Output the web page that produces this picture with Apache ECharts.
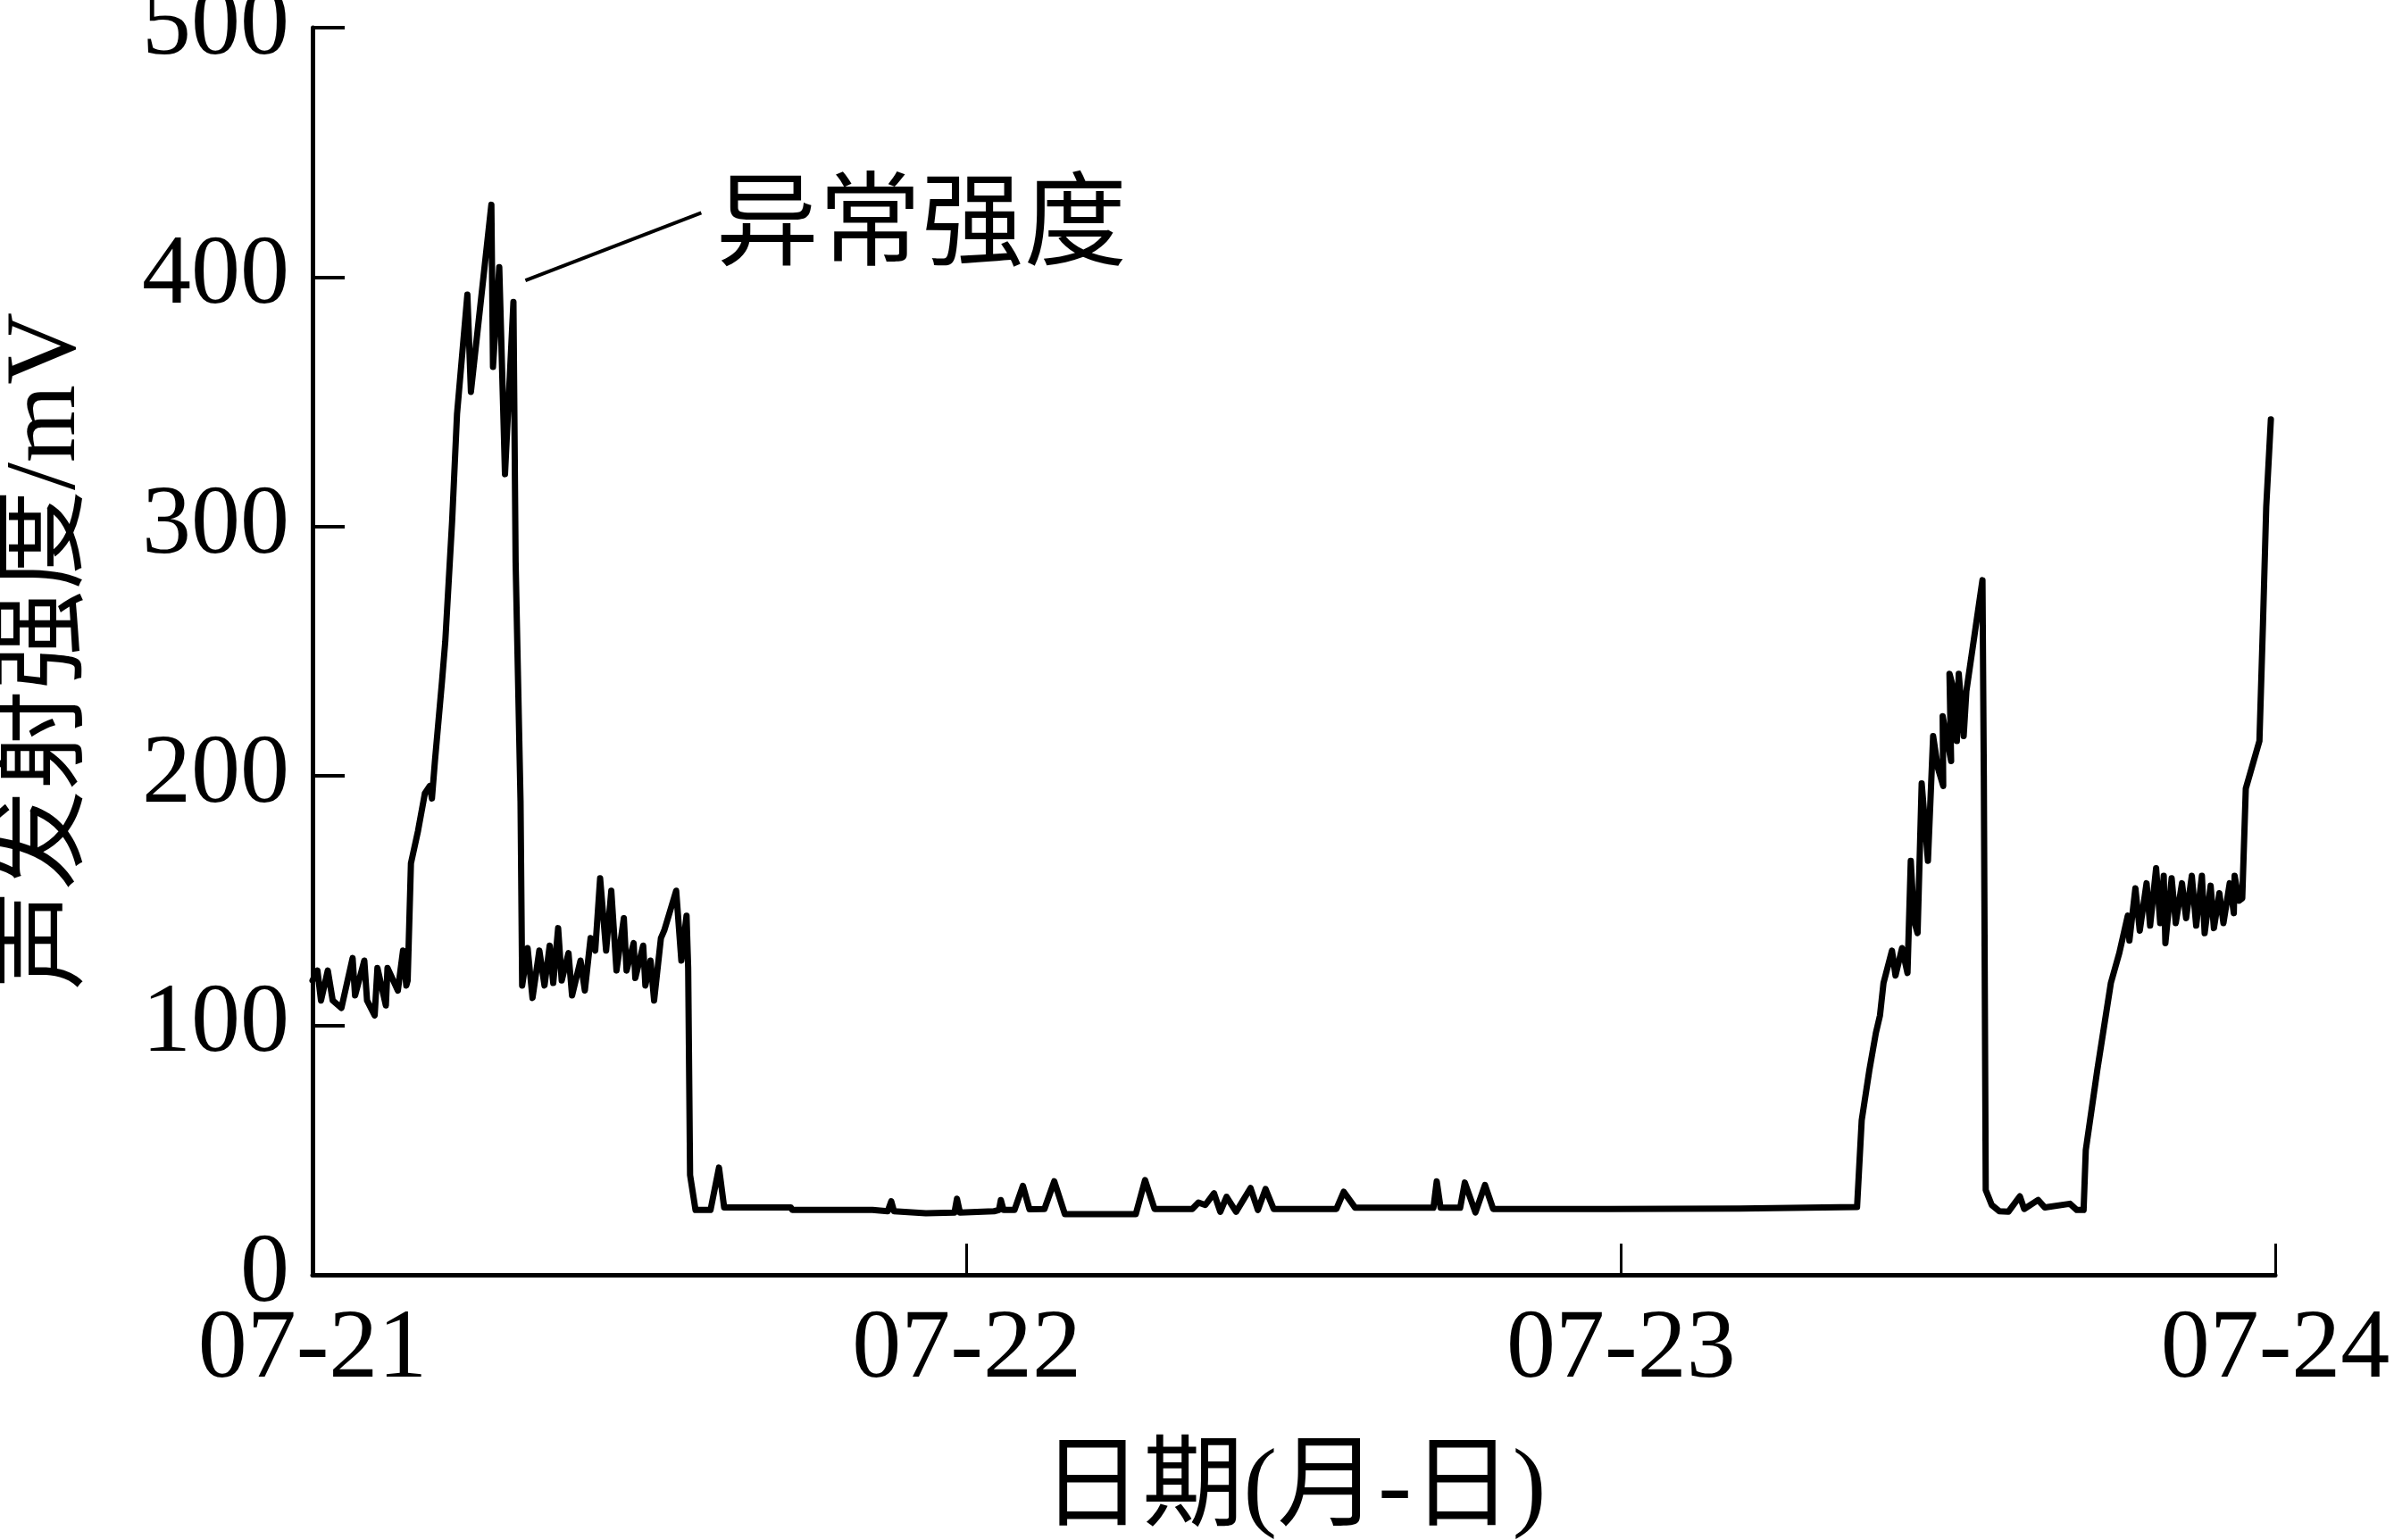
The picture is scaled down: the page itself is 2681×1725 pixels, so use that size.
<!DOCTYPE html>
<html>
<head>
<meta charset="utf-8">
<script src="https://cdn.jsdelivr.net/npm/echarts@6/dist/echarts.min.js"></script>
<style>
html,body{margin:0;padding:0;background:#fff;}
#chart{width:2681px;height:1725px;}
</style>
</head>
<body>
<div id="chart"></div>
<script>
// Time in hours since 07-21 00:00
const hours = [
0,0.18,0.31,0.56,0.74,1.06,1.47,1.56,1.90,2.00,2.28,2.38,2.69,2.75,3.13,3.32,3.44,3.49,
3.61,3.87,4.12,4.30,4.38,4.49,4.75,4.87,5.12,5.30,5.68,5.81,6.56,6.62,6.85,7.06,7.37,7.45,7.63,
7.69,7.89,8.07,8.32,8.51,8.70,8.83,9.01,9.14,9.39,9.52,9.83,9.99,10.20,10.37,10.55,10.77,10.96,
11.15,11.42,11.52,11.78,11.84,12.13,12.21,12.40,12.53,12.78,12.90,13.34,13.53,13.72,13.78,
13.85,14.05,14.60,14.91,15.10,15.40,17.55,17.60,20.54,21.10,21.23,21.33,22.50,23.55,23.64,23.75,
25.00,25.18,25.25,25.35,25.75,26.06,26.30,26.85,27.21,27.60,30.20,30.54,30.89,32.27,32.50,32.75,
33.07,33.30,33.53,33.88,34.41,34.68,34.96,35.26,37.56,37.83,38.25,41.12,41.24,41.38,42.10,42.27,
42.66,43.01,43.31,47.52,52.35,52.40,56.66,56.83,57.11,57.35,57.50,57.63,57.94,58.07,58.31,58.51,
58.63,58.75,58.88,59.03,59.26,59.45,59.63,59.82,59.80,60.11,60.05,60.22,60.32,60.39,60.57,60.67,
61.26,61.31,61.38,61.60,61.88,62.21,62.63,62.79,63.30,63.55,64.47,64.72,64.97,65.05,65.47,65.97,
66.28,66.59,66.65,66.87,67.03,67.28,67.41,67.63,67.78,67.91,67.97,68.20,68.35,68.58,68.73,68.94,
69.10,69.31,69.41,69.63,69.75,69.95,70.10,70.33,70.48,70.51,70.67,70.79,70.92,71.42,71.55,71.67,71.84
];
// Acoustic emission intensity (mV)
const values = [
118,122,110,122,110,107,127,112,126,110,104,123,108,123,114,130,116,118,
165,178,193,196,191,206,238,254,302,345,393,354,429,364,404,321,390,286,190,
116,131,111,130,116,132,117,139,118,129,112,126,114,135,130,159,130,154,
122,143,122,133,119,132,116,126,110,135,138,154,126,144,123,
40,26,26,43,27,27,27,26,26,25.5,29.5,25.5,24.7,25,30.5,25,
25.5,26,30,26,26,35.7,26.3,26.4,37.5,24.3,24.3,38,26.4,26.4,29,28,
32.7,25.3,31.3,25.3,34.8,26,34.4,26.4,26.4,33.3,26.9,26.9,37.5,26.9,26.9,37,
25,36,26.4,26.4,26.6,27.2,27.2,62,82,97,104,117,130,120,131,121,
166,142,137,197,166,216,203,196,224,206,241,234,214,241,216,234,
278.5,200,34,28,25.5,25.3,31.5,26.4,30,27,28.5,26,26,50,82,117,
129,144,134,155,138,157,140,163,141,160,133,159,141,157,143,160,
140,160,137,156,139,153,141,157,145,160,150,151,195,214,261,308,343
];
const dateLabels = ['07-21','07-22','07-23','07-24'];
const yTicks = [0,100,200,300,400,500];
const yAxisTitle = '声发射强度/mV';
const xAxisTitle = '日期(月-日)';
const annotationText = '异常强度';
// leader line endpoints and label anchor, in data coordinates [hour, mV]
const leaderStart = [7.81, 398.7];
const leaderEnd = [14.26, 425.8];
const annotationAnchor = [14.8, 419];

const FONT = "'Liberation Serif', 'Noto Sans CJK SC', serif";
const data = hours.map((h, i) => [h, values[i]]);

const chart = echarts.init(document.getElementById('chart'), null, {renderer: 'canvas'});
chart.setOption({
  animation: false,
  backgroundColor: '#fff',
  grid: {left: 350, right: 133, top: 31, bottom: 297, containLabel: false, outerBoundsMode: 'none'},
  xAxis: {
    type: 'value', min: 0, max: 72, interval: 24,
    name: xAxisTitle, nameLocation: 'middle', nameGap: 186,
    nameTextStyle: {fontFamily: FONT, fontSize: 113, color: '#000'},
    axisLine: {show: true, lineStyle: {color: '#000', width: 5}},
    axisTick: {show: true, inside: true, length: 35, lineStyle: {color: '#000', width: 3}},
    axisLabel: {
      margin: 30, fontFamily: FONT, fontSize: 110, color: '#000',
      formatter: v => dateLabels[Math.round(v / 24)] || ''
    },
    splitLine: {show: false}
  },
  yAxis: {
    type: 'value', min: 0, max: 500, interval: 100,
    name: yAxisTitle, nameLocation: 'middle', nameGap: 240, nameRotate: 90,
    nameTextStyle: {fontFamily: FONT, fontSize: 112, color: '#000'},
    axisLine: {show: true, lineStyle: {color: '#000', width: 5}},
    axisTick: {show: true, inside: true, length: 36, lineStyle: {color: '#000', width: 4}},
    axisLabel: {
      margin: 26, fontFamily: FONT, fontSize: 110, color: '#000',
      formatter: v => (yTicks.indexOf(v) >= 0 ? String(v) : '')
    },
    splitLine: {show: false}
  },
  series: [{
    type: 'line',
    data: data,
    showSymbol: false,
    symbol: 'none',
    lineStyle: {color: '#000', width: 7, join: 'round', cap: 'round'},
    markLine: {
      silent: true,
      symbol: ['none', 'none'],
      label: {show: false},
      lineStyle: {color: '#000', width: 4, type: 'solid'},
      data: [[{coord: leaderStart}, {coord: leaderEnd}]]
    },
    markPoint: {
      silent: true,
      symbol: 'circle',
      symbolSize: 0,
      itemStyle: {color: 'rgba(0,0,0,0)'},
      label: {
        show: true, position: 'right', distance: 0,
        fontFamily: FONT, fontSize: 115, color: '#000',
        formatter: annotationText
      },
      data: [{coord: annotationAnchor}]
    }
  }]
});
</script>
</body>
</html>
